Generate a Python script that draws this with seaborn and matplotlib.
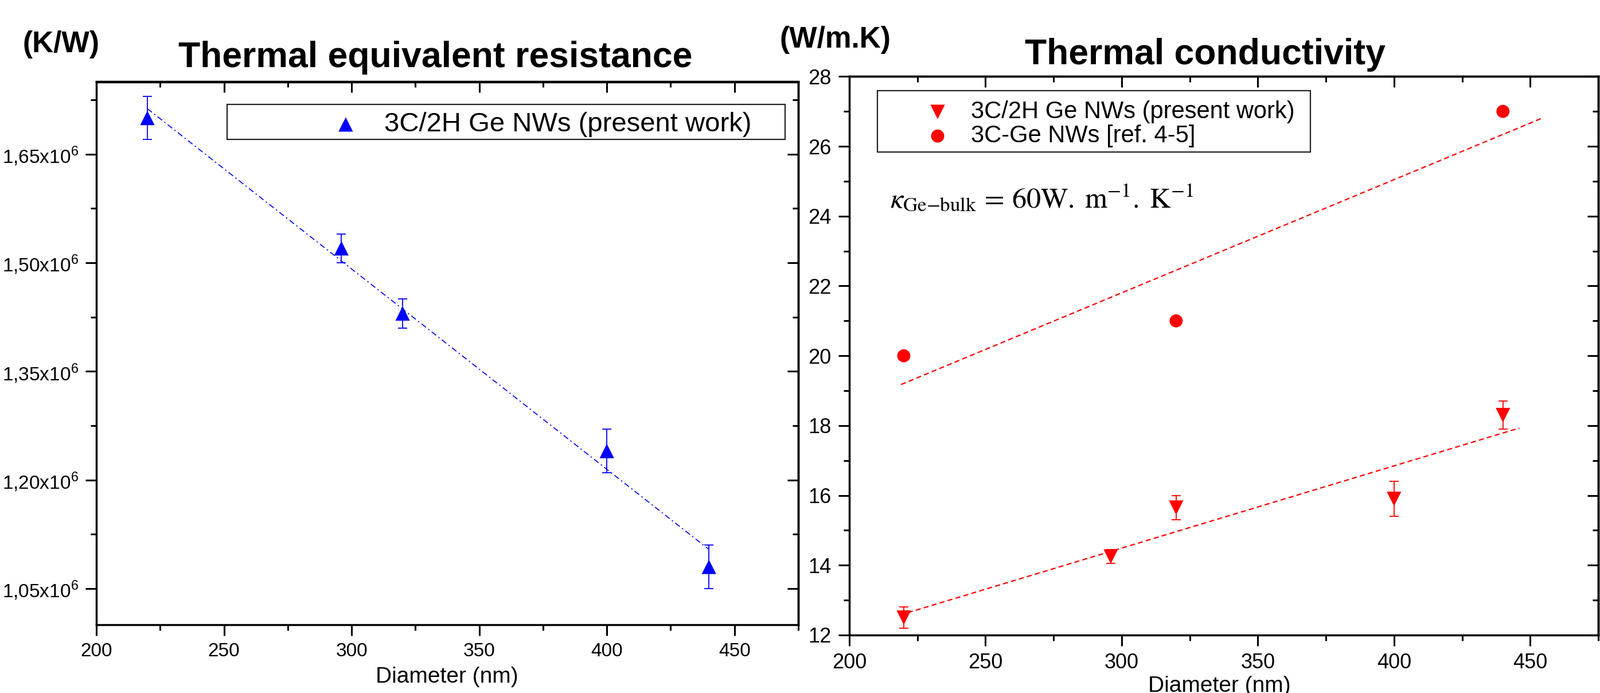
import numpy as np
import matplotlib
matplotlib.use("Agg")
import matplotlib.pyplot as plt
import matplotlib.ticker as mticker
from matplotlib.patches import Rectangle
import seaborn as sns

# left panel: thermal equivalent resistance (K/W)
res_diam = [220, 296, 320, 400, 440]
res_val = [1.70e6, 1.52e6, 1.43e6, 1.24e6, 1.08e6]
res_err = [0.03e6, 0.02e6, 0.02e6, 0.03e6, 0.03e6]

# right panel: thermal conductivity (W/m.K)
cond_diam = [220, 296, 320, 400, 440]
cond_val = [12.5, 14.25, 15.65, 15.9, 18.3]
cond_err = [0.3, 0.2, 0.35, 0.5, 0.4]

ref_diam = [220, 320, 440]
ref_val = [20, 21, 27]

label_nw = "3C/2H Ge NWs (present work)"
label_ref = "3C-Ge NWs [ref. 4-5]"

BLUE = "#0000ff"
RED = "#ff0000"
W, H = 2790, 1208

sns.set_style("ticks")
plt.rcParams["font.family"] = ["Liberation Sans", "DejaVu Sans"]
plt.rcParams["axes.linewidth"] = 2.5
for key in ["text.color", "axes.labelcolor", "xtick.color", "ytick.color", "axes.edgecolor"]:
    plt.rcParams[key] = "black"

fig = plt.figure(figsize=(W / 100, H / 100), dpi=100)
fig.patch.set_facecolor("white")


def px_axes(x0, x1, ytop, ybot):
    return fig.add_axes([x0 / W, 1 - ybot / H, (x1 - x0) / W, (ybot - ytop) / H])


def style_ticks(ax, xmaj, xmin, ymaj, ymin, size):
    ax.set_xticks(xmaj)
    ax.xaxis.set_minor_locator(mticker.FixedLocator(xmin))
    ax.set_yticks(ymaj)
    ax.yaxis.set_minor_locator(mticker.FixedLocator(ymin))
    ax.tick_params(which="both", direction="out", width=2.2, top=False, right=False,
                   labelsize=size, pad=9, colors="black")
    ax.tick_params(which="major", length=13.5)
    ax.tick_params(which="minor", length=7)
    for side in ["top", "bottom", "left", "right"]:
        ax.spines[side].set_linewidth(2.5)
        ax.spines[side].set_color("black")
    top = ax.secondary_xaxis("top")
    top.set_xticks(xmaj)
    top.xaxis.set_minor_locator(mticker.FixedLocator(xmin))
    right = ax.secondary_yaxis("right")
    right.set_yticks(ymaj)
    right.yaxis.set_minor_locator(mticker.FixedLocator(ymin))
    for sec in (top, right):
        sec.tick_params(which="both", direction="in", width=2.2, colors="black",
                        labeltop=False, labelright=False, labelleft=False, labelbottom=False)
        sec.tick_params(which="major", length=13.5)
        sec.tick_params(which="minor", length=7)
        for sp in sec.spines.values():
            sp.set_linewidth(2.5)
            sp.set_color("black")


# ---------------- left panel ----------------
ax1 = px_axes(168, 1392, 142.5, 1089)
ax1.set_xlim(200, 475)
ax1.set_ylim(1.0e6, 1.75e6)

coef = np.polyfit(res_diam, res_val, 1)
xs = np.linspace(min(res_diam), max(res_diam), 50)
sns.lineplot(x=xs, y=np.polyval(coef, xs), ax=ax1, color=BLUE, linewidth=1.2,
             linestyle=(0, (6, 3, 1.5, 3)), zorder=2)
ax1.errorbar(res_diam, res_val, yerr=res_err, fmt="none", ecolor=BLUE,
             elinewidth=1.3, capsize=6, capthick=1.3, zorder=2)
sns.scatterplot(x=res_diam, y=res_val, ax=ax1, marker="^", s=330, color=BLUE,
                edgecolor="none", linewidth=0, label=label_nw, zorder=3)

style_ticks(ax1, [200, 250, 300, 350, 400, 450], [225, 275, 325, 375, 425, 475],
            [1.05e6, 1.20e6, 1.35e6, 1.50e6, 1.65e6],
            [1.125e6, 1.275e6, 1.425e6, 1.575e6, 1.725e6], 24)
ax1.yaxis.set_major_formatter(mticker.FuncFormatter(
    lambda v, p: f"{v / 1e6:.2f}".replace(".", ",") + r"x10$^{\mathregular{6}}$"))
ax1.set_xlabel("Diameter (nm)", fontsize=28)
ax1.xaxis.set_label_coords(0.4992, -0.077)
ax1.set_ylabel("")

ax1.legend(loc="center left", bbox_to_anchor=(0.336, 0.921), frameon=False,
           handlelength=1, handletextpad=0.93, borderpad=0, borderaxespad=0,
           fontsize=34)
ax1.add_patch(Rectangle((0.1863, 0.8938), 0.795, 0.0645, transform=ax1.transAxes,
                        fill=False, edgecolor="#222222", linewidth=1.6, zorder=5))

# ---------------- right panel ----------------
ax2 = px_axes(1481, 2787, 133.3, 1107)
ax2.set_xlim(200, 475)
ax2.set_ylim(12, 28)

coef_ref = np.polyfit(ref_diam, ref_val, 1)
xr = np.linspace(min(ref_diam) - 1, max(ref_diam) + 14, 50)
sns.lineplot(x=xr, y=np.polyval(coef_ref, xr), ax=ax2, color=RED, linewidth=1.6,
             linestyle=(0, (4, 2.5)), zorder=2)
coef_nw = np.polyfit(cond_diam, cond_val, 1)
xn = np.linspace(min(cond_diam) + 1.5, max(cond_diam) + 6, 50)
sns.lineplot(x=xn, y=np.polyval(coef_nw, xn), ax=ax2, color=RED, linewidth=1.6,
             linestyle=(0, (4, 2.5)), zorder=2)

ax2.errorbar(cond_diam, cond_val, yerr=cond_err, fmt="none", ecolor=RED,
             elinewidth=1.3, capsize=6, capthick=1.3, zorder=2)
sns.scatterplot(x=cond_diam, y=cond_val, ax=ax2, marker="v", s=330, color=RED,
                edgecolor="none", linewidth=0, label=label_nw, zorder=3)
sns.scatterplot(x=ref_diam, y=ref_val, ax=ax2, marker="o", s=270, color=RED,
                edgecolor="none", linewidth=0, label=label_ref, zorder=3)

style_ticks(ax2, [200, 250, 300, 350, 400, 450], [225, 275, 325, 375, 425, 475],
            list(range(12, 29, 2)), list(range(13, 28, 2)), 26)
ax2.set_xlabel("Diameter (nm)", fontsize=28)
ax2.xaxis.set_label_coords(0.494, -0.073)
ax2.set_ylabel("")

ax2.legend(loc="center left", bbox_to_anchor=(0.102, 0.915), frameon=False,
           handlelength=1, handletextpad=0.9, borderpad=0, borderaxespad=0,
           labelspacing=0.05, fontsize=30)
ax2.add_patch(Rectangle((0.0375, 0.8648), 0.578, 0.1099, transform=ax2.transAxes,
                        fill=False, edgecolor="#222222", linewidth=1.6, zorder=5))

ax2.text(0.054, 0.765,
         r"$\kappa_{\mathrm{Ge{-}bulk}} \,=\, 60\mathrm{W.\;m^{-1}.\;K^{-1}}$",
         transform=ax2.transAxes, fontsize=36, math_fontfamily="stix",
         ha="left", va="baseline")

# ---------------- titles and units ----------------
fig.text(759 / W, 1 - 117 / H, "Thermal equivalent resistance", ha="center",
         va="baseline", fontsize=45, fontweight="bold")
fig.text(2101 / W, 1 - 112 / H, "Thermal conductivity", ha="center",
         va="baseline", fontsize=45, fontweight="bold")
fig.text(40 / W, 1 - 91 / H, "(K/W)", ha="left", va="baseline",
         fontsize=37, fontweight="bold")
fig.text(1359 / W, 1 - 83 / H, "(W/m.K)", ha="left", va="baseline",
         fontsize=37, fontweight="bold")

fig.savefig("out.png", dpi=100, facecolor="white")
